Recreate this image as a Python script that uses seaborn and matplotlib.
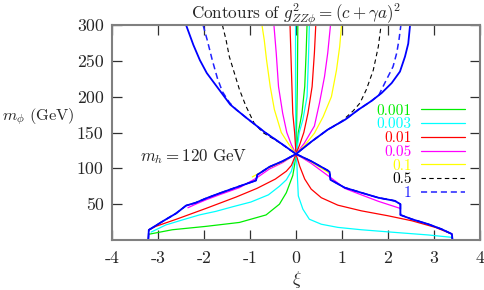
import matplotlib
matplotlib.use("Agg")
import matplotlib.pyplot as plt
import pandas as pd
import seaborn as sns

sns.set_theme(style="white")
plt.rcParams['font.family'] = ['cmr10', 'DejaVu Serif']
plt.rcParams['mathtext.fontset'] = 'cm'
plt.rcParams['axes.unicode_minus'] = False
plt.rcParams['axes.formatter.use_mathtext'] = True

# ---------------- data ----------------
levels = ["0.001", "0.003", "0.01", "0.05", "0.1", "0.5", "1"]
colors = ["#00ee00", "#00ffff", "#ff0000", "#ff00ff", "#ffff00", "#000000", "#2020ff"]
xtick_vals = [-4, -3, -2, -1, 0, 1, 2, 3, 4]
xtick_labels = ["-4", "-3", "-2", "-1", "0", "1", "2", "3", "4"]
ytick_vals = [50, 100, 150, 200, 250, 300]

# boundary of allowed region (solid blue)
bnd_up_xi = [-2.39, -2.23, -2.09, -1.94, -1.72, -1.43, -1.30, -1.07, -0.67, -0.33, 0.0,
             0.33, 0.69, 1.07, 1.36, 1.64, 1.86, 2.08, 2.26, 2.37, 2.44, 2.48]
bnd_up_m = [300, 272, 251, 233, 214, 189, 182, 170, 150, 135, 120,
            137, 154, 168, 182, 194, 205, 219, 235, 256, 274, 300]
bnd_lo_xi = [-3.21, -3.20, -2.90, -2.61, -2.39, -2.18, -1.96, -1.67, -1.23, -0.87, -0.84,
             -0.58, -0.29, 0.0, 0.33, 0.69, 0.73, 0.75, 1.06, 1.42, 1.79, 2.15, 2.27, 2.27,
             2.52, 2.88, 3.17, 3.39, 3.40]
bnd_lo_m = [1, 14, 26, 37, 48, 52, 58, 65, 75, 83, 91,
            102, 110, 120, 110, 97, 95, 84, 73, 66, 59, 54.6, 50, 35,
            29, 22, 15, 8.3, 1]

# level 0.001 (green)
g1_up_xi = [0.04, 0.03, 0.01, 0.0, 0.02, 0.05, 0.13, 0.19, 0.22, 0.24]
g1_up_m = [300, 220, 150, 120, 130, 150, 177, 214, 261, 300]
g1_lo_xi = [-3.20, -2.69, -1.96, -1.23, -0.65, -0.36, -0.21, -0.07, -0.03, 0.0]
g1_lo_m = [8, 14.3, 19, 24.5, 35, 50, 66, 90, 105, 120]

# level 0.003 (cyan)
g3_up_xi = [-0.01, -0.01, 0.0, 0.03, 0.07, 0.15, 0.24, 0.27, 0.29]
g3_up_m = [300, 200, 120, 130, 150, 168, 200, 251, 300]
g3_lo_xi = [-3.15, -2.83, -2.47, -2.10, -1.74, -1.37, -0.98, -0.60, -0.36, -0.21, -0.10, 0.0,
            0.02, 0.03, 0.05, 0.15, 0.29, 0.55, 0.91, 1.42, 2.15, 2.88, 3.39]
g3_lo_m = [11, 21, 28, 35, 40, 46.5, 53, 63, 75, 84, 96, 120,
           105, 89, 61.5, 43, 29, 22, 17.6, 14.3, 10.6, 7, 3.7]

# level 0.01 (red)
g10_up_xi = [-0.13, -0.10, -0.07, -0.03, 0.0, 0.08, 0.17, 0.26, 0.35, 0.40, 0.43]
g10_up_m = [300, 237, 177, 150, 120, 133, 150, 177, 214, 261, 300]
g10_lo_xi = [-3.20, -3.05, -2.60, -1.96, -1.30, -0.85, -0.45, -0.21, -0.10, 0.0,
             0.08, 0.19, 0.33, 0.55, 0.91, 1.42, 2.00, 2.52, 3.03, 3.39]
g10_lo_m = [14, 19, 29, 44, 60, 72, 85, 96, 104, 120,
            103, 85, 71, 59, 48.6, 40.7, 33.8, 26.8, 17.6, 8.3]

# level 0.05 (magenta)
g50_up_xi = [-0.48, -0.43, -0.38, -0.29, -0.20, -0.10, 0.0, 0.18, 0.40, 0.51, 0.62, 0.69, 0.75]
g50_up_m = [300, 261, 214, 177, 150, 133, 120, 135, 159, 191, 228, 261, 300]
g50_lo_xi = [-2.35, -2.18, -1.96, -1.67, -1.23, -0.87, -0.58, -0.29, 0.0,
             0.33, 0.69, 0.90, 1.06, 1.42, 1.79, 2.15, 2.27]
g50_lo_m = [45, 50, 56, 63, 73, 86, 99, 108, 120,
            107, 90, 80, 72, 63, 54, 46.5, 44]

# level 0.1 (yellow)
g100_up_xi = [-0.74, -0.69, -0.64, -0.56, -0.47, -0.32, -0.15, 0.0, 0.20, 0.40, 0.59, 0.77, 0.88, 0.95, 0.99]
g100_up_m = [300, 279, 251, 214, 182, 150, 133, 120, 133, 149, 172, 200, 237, 270, 300]
g100_lo_xi = [-0.95, -0.58, -0.29, 0.0, 0.33, 0.73]
g100_lo_m = [88, 101, 109, 120, 109, 93]

# level 0.5 (black dashed)
g500_up_xi = [-1.60, -1.52, -1.45, -1.34, -1.23, -1.09, -0.91, -0.72, -0.36, 0.0,
              0.33, 0.69, 1.00, 1.24, 1.39, 1.53, 1.68, 1.79, 1.85]
g500_up_m = [300, 279, 256, 233, 210, 187, 163, 150, 136, 120,
             137, 154, 166, 180, 191, 210, 237, 270, 300]

# level 1 (blue dashed)
g1000_up_xi = [-2.02, -1.93, -1.82, -1.71, -1.60, -1.45, -1.30, -1.07, -0.67, -0.33, 0.0,
               0.33, 0.69, 1.07, 1.36, 1.64, 1.80, 1.93, 2.04, 2.11, 2.19, 2.24, 2.28]
g1000_up_m = [300, 279, 251, 226, 207, 192, 182, 170, 150, 135, 120,
              137, 154, 168, 182, 194, 202, 219, 233, 242, 261, 280, 300]

curves = [
    ("0.001", g1_up_xi, g1_up_m, g1_lo_xi, g1_lo_m),
    ("0.003", g3_up_xi, g3_up_m, g3_lo_xi, g3_lo_m),
    ("0.01", g10_up_xi, g10_up_m, g10_lo_xi, g10_lo_m),
    ("0.05", g50_up_xi, g50_up_m, g50_lo_xi, g50_lo_m),
    ("0.1", g100_up_xi, g100_up_m, g100_lo_xi, g100_lo_m),
    ("0.5", g500_up_xi, g500_up_m, bnd_lo_xi, bnd_lo_m),
    ("1", g1000_up_xi, g1000_up_m, bnd_lo_xi, bnd_lo_m),
]

# ---------------- figure ----------------
W, H = 485, 290
fig = plt.figure(figsize=(W / 100, H / 100), dpi=100)
ax = fig.add_axes([112 / W, 50 / H, 368 / W, 215 / H])
ax.set_facecolor("white")

styles = {"0.5": (0, (4, 3)), "1": (0, (4, 2.5))}
widths = {"0.5": 0.8, "1": 1.1}
handles = []
for (lab, uxi, um, lxi, lm), col in zip(curves, colors):
    ls = styles.get(lab, "-")
    lw = widths.get(lab, 0.9)
    for xs, ys in [(uxi, um), (lxi, lm)]:
        d = pd.DataFrame({"xi": xs, "m": ys})
        sns.lineplot(data=d, x="xi", y="m", sort=False, estimator=None,
                     color=col, linestyle=ls, lw=lw, ax=ax)
    handles.append(ax.get_lines()[-1])

# boundary
for xs, ys in [(bnd_up_xi, bnd_up_m), (bnd_lo_xi, bnd_lo_m)]:
    d = pd.DataFrame({"xi": xs, "m": ys})
    sns.lineplot(data=d, x="xi", y="m", sort=False, estimator=None,
                 color="#0000ff", lw=1.3, ax=ax)

ax.set_xlim(-4, 4)
ax.set_ylim(0, 300)
ax.set_xticks(xtick_vals)
ax.set_xticklabels(xtick_labels)
ax.set_yticks(ytick_vals)
ax.set_yticklabels([str(v) for v in ytick_vals])
ax.set_xlabel("")
ax.set_ylabel("")
for s in ax.spines.values():
    s.set_color("#808080")
    s.set_linewidth(1.5)
ax.tick_params(axis="both", which="both", direction="in", length=7, width=0.9,
               color="#303030", top=True, right=True, bottom=True, left=True,
               labelsize=12.8, pad=6)
ax.tick_params(axis="x", pad=8)

leg = ax.legend(handles, levels, loc="upper right", bbox_to_anchor=(465 / W, 1 - 104 / H),
                bbox_transform=fig.transFigure, frameon=False, markerfirst=False,
                labelcolor="linecolor", fontsize=11, handlelength=2.9,
                handletextpad=0.6, labelspacing=0.0, borderpad=0, borderaxespad=0)

fig.text(296 / W, 1 - 18 / H, r"$\mathrm{Contours\ of}\ g^2_{ZZ\phi}=(c+\gamma a)^2$",
         ha="center", va="baseline", fontsize=12.3)
fig.text(2 / W, 1 - 117 / H, r"$m_\phi\ \mathrm{(GeV)}$", ha="left", va="center", fontsize=11.8)
fig.text(297 / W, 1 - 280 / H, r"$\xi$", ha="center", va="center", fontsize=13)
ax.text(-3.4, 117, r"$m_h = 120\ \mathrm{GeV}$", ha="left", va="center", fontsize=12.2)

fig.savefig("out.png", dpi=100)
